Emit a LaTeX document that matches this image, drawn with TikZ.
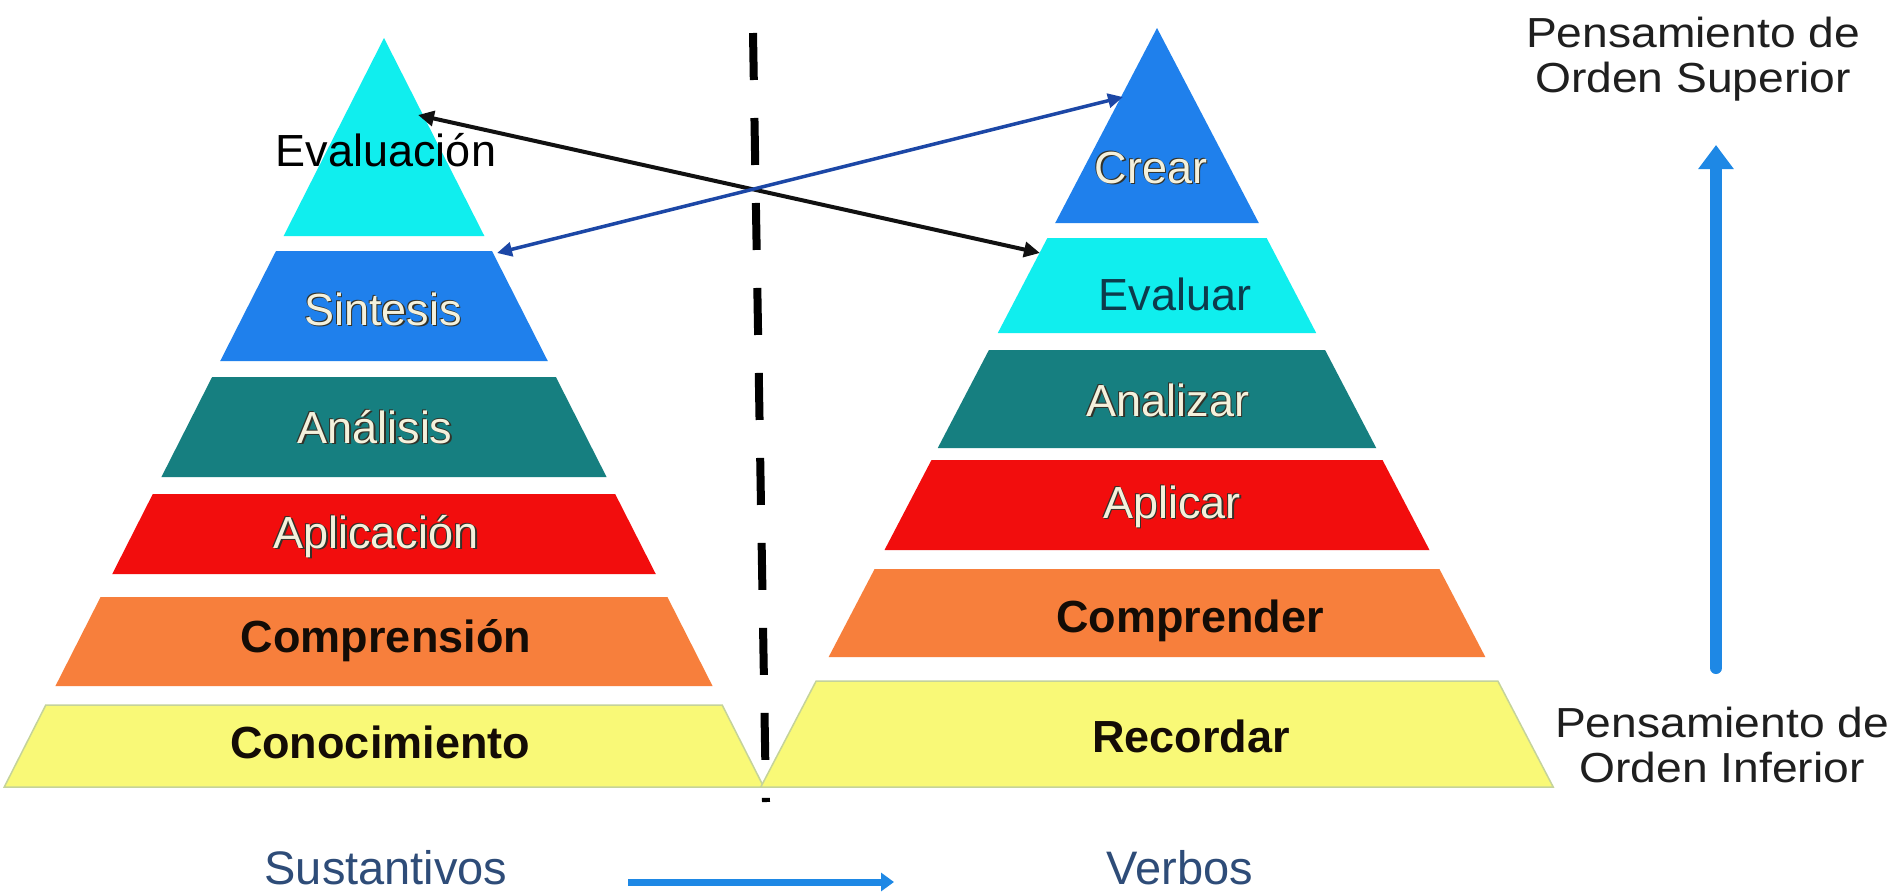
\documentclass[tikz,border=0pt]{standalone}
\usepackage{fontspec}
\setmainfont{Liberation Sans}
\newfontfamily\widefont[FakeStretch=1.1]{Liberation Sans}
\usetikzlibrary{arrows.meta}
\definecolor{cyanband}{HTML}{10EEEE}
\definecolor{blueband}{HTML}{1F80EC}
\definecolor{tealband}{HTML}{167F80}
\definecolor{redband}{HTML}{F20D0D}
\definecolor{orangeband}{HTML}{F77F3C}
\definecolor{yellowband}{HTML}{F9F977}
\definecolor{yellowedge}{HTML}{C5D39A}
\definecolor{evtext}{HTML}{0D3B4C}
\definecolor{embtext}{HTML}{F4F1DC}
\definecolor{embdark}{HTML}{33332A}
\definecolor{subcolor}{HTML}{2E4C78}
\definecolor{arrblack}{HTML}{111111}
\definecolor{arrblue}{HTML}{1C47A6}
\definecolor{bigblue}{HTML}{1E88E5}
\definecolor{boldtext}{HTML}{140C06}
\newcommand\pyrband[6]{%
  \fill[#6] ({#1-#2*(#4-#3)},#4) -- ({#1+#2*(#4-#3)},#4) -- ({#1+#2*(#5-#3)},#5) -- ({#1-#2*(#5-#3)},#5) -- cycle;}
\newcommand\embtxt[1]{\leavevmode\rlap{\textcolor{embdark}{\kern1.6pt\raisebox{-1.6pt}{#1}}}\rlap{\textcolor{embdark}{\kern-0.9pt\raisebox{0.9pt}{#1}}}\textcolor{embtext}{#1}}
\tikzset{
  lbl/.style={font=\fontsize{45}{50}\selectfont, inner sep=0pt, anchor=base},
  blbl/.style={font=\fontsize{45}{50}\selectfont\bfseries, inner sep=0pt, anchor=base, text=boldtext},
  sidelbl/.style={font=\widefont\fontsize{42}{45}\selectfont, inner sep=0pt, anchor=base, align=center, text=black!88},
  botlbl/.style={font=\fontsize{47}{52}\selectfont, inner sep=0pt, anchor=base, text=subcolor},
}
\begin{document}
\begin{tikzpicture}[x=1pt,y=-1pt]
\useasboundingbox (0,0) rectangle (1895,892);
\fill[white] (0,0) rectangle (1895,892);
% left pyramid
\pyrband{384}{0.507}{38}{38}{236}{cyanband}
\pyrband{384}{0.507}{38}{251}{361}{blueband}
\pyrband{384}{0.507}{38}{377}{477}{tealband}
\pyrband{384}{0.507}{38}{494}{574}{redband}
\pyrband{384}{0.507}{38}{597}{686}{orangeband}
\pyrband{384}{0.507}{38}{705}{787}{yellowband, draw=yellowedge, line width=1.5pt}
% right pyramid
\pyrband{1157}{0.522}{28}{28}{223}{blueband}
\pyrband{1157}{0.522}{28}{238}{333}{cyanband}
\pyrband{1157}{0.522}{28}{350}{448}{tealband}
\pyrband{1157}{0.522}{28}{460}{550}{redband}
\pyrband{1157}{0.522}{28}{569}{657}{orangeband}
\pyrband{1157}{0.522}{28}{681}{787}{yellowband, draw=yellowedge, line width=1.5pt}
% left labels
\node[lbl, text=black] (evn) at (386,166) {Evaluación};
\node[lbl] (sint) at (383,325) {\embtxt{Sintesis}};
\node[lbl] (anal) at (375,443) {\embtxt{Análisis}};
\node[lbl] (aplic) at (376,548) {\embtxt{Aplicación}};
\node[blbl] (compr) at (386,652) {Comprensión};
\node[blbl] (conoc) at (380,758) {Conocimiento};
% right labels
\node[lbl] (crear) at (1151,183) {\embtxt{Crear}};
\node[lbl, text=evtext] (evalr) at (1175,310) {Evaluar};
\node[lbl] (anlz) at (1168,416) {\embtxt{Analizar}};
\node[lbl] (aplr) at (1172,518) {\embtxt{Aplicar}};
\node[blbl] (cmpr) at (1190,632) {Comprender};
\node[blbl] (rec) at (1191,752) {Recordar};
% dashed divider
\coordinate (dtop) at (753,33);
\coordinate (dbot) at (766,802);
\draw[line width=8pt, black, dash pattern=on 47pt off 38pt] (dtop) -- (dbot);
% crossing arrows
\coordinate (evtip) at (418,115);
\coordinate (evrtip) at (1040,253);
\coordinate (sintip) at (497,253);
\coordinate (creartip) at (1123,97);
\draw[line width=4pt, arrblack, {Triangle[length=16pt,width=15pt]}-{Triangle[length=16pt,width=15pt]}] (evtip) -- (evrtip);
\draw[line width=3.5pt, arrblue, {Triangle[length=15pt,width=14pt]}-{Triangle[length=15pt,width=14pt]}] (sintip) -- (creartip);
% side labels and vertical arrow
\node[sidelbl] (sup) at (1693,92) {Pensamiento de\\Orden Superior};
\node[sidelbl] (inf) at (1722,782) {Pensamiento de\\Orden Inferior};
\coordinate (vbot) at (1716,668);
\coordinate (vtop) at (1716,145);
\draw[line width=12pt, bigblue, line cap=round, -{Triangle[length=24pt,width=34pt]}] (vbot) -- (vtop);
% bottom labels and arrow
\node[botlbl] (sust) at (386,884) {Sustantivos};
\node[botlbl] (verb) at (1180,884) {Verbos};
\coordinate (ha) at (628,882);
\coordinate (hb) at (894,882);
\draw[line width=7pt, bigblue, -{Triangle[length=13pt,width=18pt]}] (ha) -- (hb);
\end{tikzpicture}
\end{document}
